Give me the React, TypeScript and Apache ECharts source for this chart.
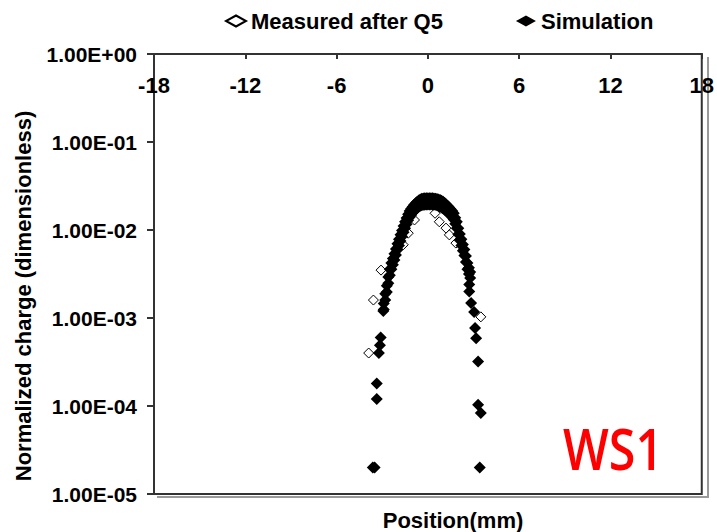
import React, { useEffect, useRef } from "react";
import * as echarts from "echarts";

// Measured after Q5 (open diamonds)
const measuredX = [-3.89, -3.58, -3.08, -1.62, -1.29, -0.88, 0.47, 0.75, 1.19, 1.41, 1.84, 3.48];
const measuredY = [0.0004, 0.0016, 0.0035, 0.0068, 0.0092, 0.013, 0.0155, 0.0124, 0.0105, 0.0088, 0.0071, 0.00103];

// Simulation (filled diamonds) – main profile, two rows of points
const simRowX = [
  -2.9, -2.8, -2.7, -2.6, -2.5, -2.4, -2.3, -2.2, -2.1, -2.0,
  -1.9, -1.8, -1.7, -1.6, -1.5, -1.4, -1.3, -1.2, -1.1, -1.0,
  -0.9, -0.8, -0.7, -0.6, -0.5, -0.4, -0.3, -0.2, -0.1, 0.0,
  0.1, 0.2, 0.3, 0.4, 0.5, 0.6, 0.7, 0.8, 0.9, 1.0,
  1.1, 1.2, 1.3, 1.4, 1.5, 1.6, 1.7, 1.8, 1.9, 2.0,
  2.1, 2.2, 2.3, 2.4, 2.5, 2.6, 2.7, 2.78,
];
const simUpperY = [
  0.00146, 0.00188, 0.00232, 0.00292, 0.00359, 0.00422, 0.00473, 0.00537, 0.0061, 0.007,
  0.00785, 0.00881, 0.00989, 0.0111, 0.0124, 0.0137, 0.0151, 0.0164, 0.0174, 0.0184,
  0.0193, 0.0202, 0.021, 0.0217, 0.0222, 0.0226, 0.0228, 0.0229, 0.0229, 0.0229,
  0.0229, 0.0229, 0.0229, 0.0228, 0.0227, 0.0225, 0.0222, 0.0219, 0.0215, 0.021,
  0.0203, 0.0195, 0.0187, 0.018, 0.0172, 0.0164, 0.0155, 0.0138, 0.0124, 0.0105,
  0.00902, 0.00785, 0.00684, 0.00601, 0.00507, 0.00422, 0.00372, 0.00334,
];
const simLowerY = [
  0.00125, 0.0016, 0.00197, 0.00248, 0.00306, 0.00359, 0.00403, 0.00457, 0.00519, 0.00596,
  0.00668, 0.0075, 0.00841, 0.00944, 0.0105, 0.0116, 0.0129, 0.014, 0.0148, 0.0157,
  0.0164, 0.0172, 0.0178, 0.0184, 0.0188, 0.0191, 0.0193, 0.0194, 0.0195, 0.0195,
  0.0195, 0.0195, 0.0195, 0.0194, 0.0193, 0.0191, 0.0188, 0.0184, 0.018, 0.0176,
  0.017, 0.0164, 0.0159, 0.0153, 0.0146, 0.014, 0.0132, 0.0118, 0.0105, 0.00893,
  0.00767, 0.00668, 0.00582, 0.00512, 0.00432, 0.00359, 0.00316, 0.00284,
];
// Simulation – sparse tails
const simTailX = [-2.93, -3.1, -3.15, -3.22, -3.36, -3.36, -3.5, -3.62, 2.72, 2.72, 2.84, 3.04, 3.1, 3.17, 3.3, 3.3, 3.48, 3.41];
const simTailY = [0.0012, 0.0006, 0.00049, 0.0004, 0.00018, 0.00012, 0.00002, 0.00002, 0.0024, 0.002, 0.00148, 0.00117, 0.00077, 0.00059, 0.00032, 0.000103, 0.000083, 0.00002];

const xTicks = { min: -18, max: 18, interval: 6 };
const yRange = { min: 0.00001, max: 1 };

const FONT = "'Liberation Sans', Arial, sans-serif";

function fmtE(v: number) {
  const e = Math.round(Math.log10(v));
  return "1.00E" + (e < 0 ? "-" : "+") + String(Math.abs(e)).padStart(2, "0");
}

export default function App() {
  const ref = useRef<HTMLDivElement>(null);
  useEffect(() => {
    if (!ref.current) return;
    const chart = echarts.init(ref.current, undefined, { renderer: "svg" });
    const measuredData = measuredX.map((x, i) => [x, measuredY[i]]);
    const simData = [
      ...simRowX.map((x, i) => [x, simUpperY[i]]),
      ...simRowX.map((x, i) => [x, simLowerY[i]]),
      ...simTailX.map((x, i) => [x, simTailY[i]]),
    ];
    chart.setOption({
      animation: false,
      backgroundColor: "#fff",
      grid: {
        left: 154,
        right: 12,
        top: 54,
        bottom: 38,
        show: true,
        borderColor: "#333",
        borderWidth: 2,
        backgroundColor: "transparent",
      },
      legend: {
        left: 220,
        top: 5,
        itemWidth: 20,
        itemHeight: 11,
        itemGap: 73,
        textStyle: { fontFamily: FONT, fontWeight: "bold", fontSize: 22, color: "#000" },
        data: ["Measured after Q5", "Simulation"],
      },
      xAxis: {
        type: "value",
        position: "top",
        min: xTicks.min,
        max: xTicks.max,
        interval: xTicks.interval,
        axisLine: { show: true, onZero: false, lineStyle: { color: "#333", width: 2 } },
        axisTick: { show: true, inside: true, length: 5, lineStyle: { color: "#333", width: 2 } },
        axisLabel: {
          inside: true,
          margin: 20,
          fontFamily: FONT,
          fontWeight: "bold",
          fontSize: 22,
          color: "#000",
        },
        splitLine: { show: false },
      },
      yAxis: {
        type: "log",
        logBase: 10,
        min: yRange.min,
        max: yRange.max,
        axisLine: { show: true, onZero: false, lineStyle: { color: "#333", width: 2 } },
        axisTick: { show: true, inside: false, length: 7, lineStyle: { color: "#333", width: 2 } },
        axisLabel: {
          margin: 17,
          formatter: (v: number) => fmtE(v),
          fontFamily: FONT,
          fontWeight: "bold",
          fontSize: 21,
          color: "#000",
        },
        splitLine: { show: false },
      },
      series: [
        {
          name: "Measured after Q5",
          type: "scatter",
          symbol: "diamond",
          symbolSize: 10,
          itemStyle: { color: "#fff", borderColor: "#000", borderWidth: 1, opacity: 1 },
          data: measuredData,
        },
        {
          name: "Simulation",
          type: "scatter",
          symbol: "diamond",
          symbolSize: 12,
          itemStyle: { color: "#000", opacity: 1 },
          data: simData,
        },
      ],
      graphic: [
        {
          type: "polyline",
          z: -1,
          silent: true,
          shape: { points: [[708, 57], [708, 497], [157, 497]] },
          style: { stroke: "#9a9a9a", lineWidth: 2, fill: "none" },
        },
        {
          type: "text",
          x: 23,
          y: 296,
          rotation: Math.PI / 2,
          style: {
            text: "Normalized charge (dimensionless)",
            fontFamily: FONT,
            fontWeight: "bold",
            fontSize: 22,
            fill: "#000",
            align: "center",
            verticalAlign: "middle",
          },
        },
        {
          type: "text",
          x: 453,
          y: 520,
          style: {
            text: "Position(mm)",
            fontFamily: FONT,
            fontWeight: "bold",
            fontSize: 22,
            fill: "#000",
            align: "center",
            verticalAlign: "middle",
          },
        },
        {
          type: "text",
          x: 563,
          y: 447,
          scaleX: 0.85,
          style: {
            text: "WS1",
            fontFamily: "'Open Sans', sans-serif",
            fontWeight: 600,
            fontSize: 57,
            fill: "#ff0000",
            align: "left",
            verticalAlign: "middle",
          },
        },
      ],
    });
    return () => chart.dispose();
  }, []);
  return (
    <div
      ref={ref}
      style={{ position: "fixed", left: 0, top: 0, width: 717, height: 532, background: "#fff" }}
    />
  );
}
